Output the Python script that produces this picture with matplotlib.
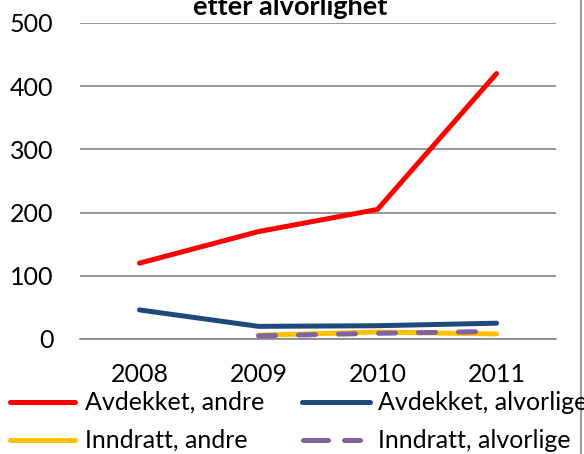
import matplotlib.pyplot as plt
from matplotlib.lines import Line2D

years = ["2008", "2009", "2010", "2011"]
avdekket_andre = [120, 170, 205, 420]
avdekket_alvorlige = [46, 20, 21, 25]
inndratt_andre = [None, 6, 11, 8]
inndratt_alvorlige = [None, 5, 9, 12]

plt.rcParams['font.family'] = ['Lato', 'DejaVu Sans']

W, H = 584, 454
fig = plt.figure(figsize=(W / 100, H / 100), dpi=100)
ax = fig.add_axes([80/W, 1 - 339/H, 476/W, 316/H])

x = list(range(len(years)))
ax.plot(x, avdekket_andre, color='#ff0000', lw=3.6, solid_capstyle='round', zorder=3)
ax.plot(x, avdekket_alvorlige, color='#1f497d', lw=3.6, solid_capstyle='round', zorder=3)
ax.plot(x[1:], inndratt_andre[1:], color='#ffc000', lw=3.6, solid_capstyle='round', zorder=3)
ax.plot(x[1:], inndratt_alvorlige[1:], color='#8064a2', lw=3.6, dashes=(3.4, 4.6),
        dash_capstyle='round', zorder=4)

ax.set_xlim(-0.5, 3.5)
ax.set_ylim(0, 500)
ax.set_yticks(range(0, 501, 100))
ax.set_xticks(x)
ax.set_xticklabels(years)
ax.grid(axis='y', color='#868686', lw=1.2)
ax.set_axisbelow(True)
for s in ['top', 'right', 'left']:
    ax.spines[s].set_visible(False)
ax.spines['bottom'].set_color('#868686')
ax.spines['bottom'].set_linewidth(1.2)
ax.tick_params(length=0, labelsize=18, colors='black')
ax.tick_params(axis='x', pad=17)
ax.tick_params(axis='y', pad=19)

fig.text(290/W, 1 - 15/H, "etter alvorlighet", ha='center', va='baseline',
         fontsize=19.5, fontweight='bold')

# chart border on right
fig.add_artist(Line2D([581/W, 581/W], [0, 1], color='#868686', lw=1.2))

# legend, two columns below the plot
def legend_item(x0, x1, xt, y, label, **kw):
    fig.add_artist(Line2D([x0/W, x1/W], [1 - y/H, 1 - y/H], lw=3.6, **kw))
    fig.text(xt/W, 1 - y/H, label, ha='left', va='center', fontsize=18)

legend_item(10, 75, 85, 402, "Avdekket, andre", color='#ff0000', solid_capstyle='round')
legend_item(10, 75, 85, 440, "Inndratt, andre", color='#ffc000', solid_capstyle='round')
legend_item(302, 370, 378, 402, "Avdekket, alvorlige", color='#1f497d', solid_capstyle='round')
legend_item(303, 360, 378, 440, "Inndratt, alvorlige", color='#8064a2',
            dashes=(5.0, 3.2), dash_capstyle='round')

fig.savefig("out.png", dpi=100)
